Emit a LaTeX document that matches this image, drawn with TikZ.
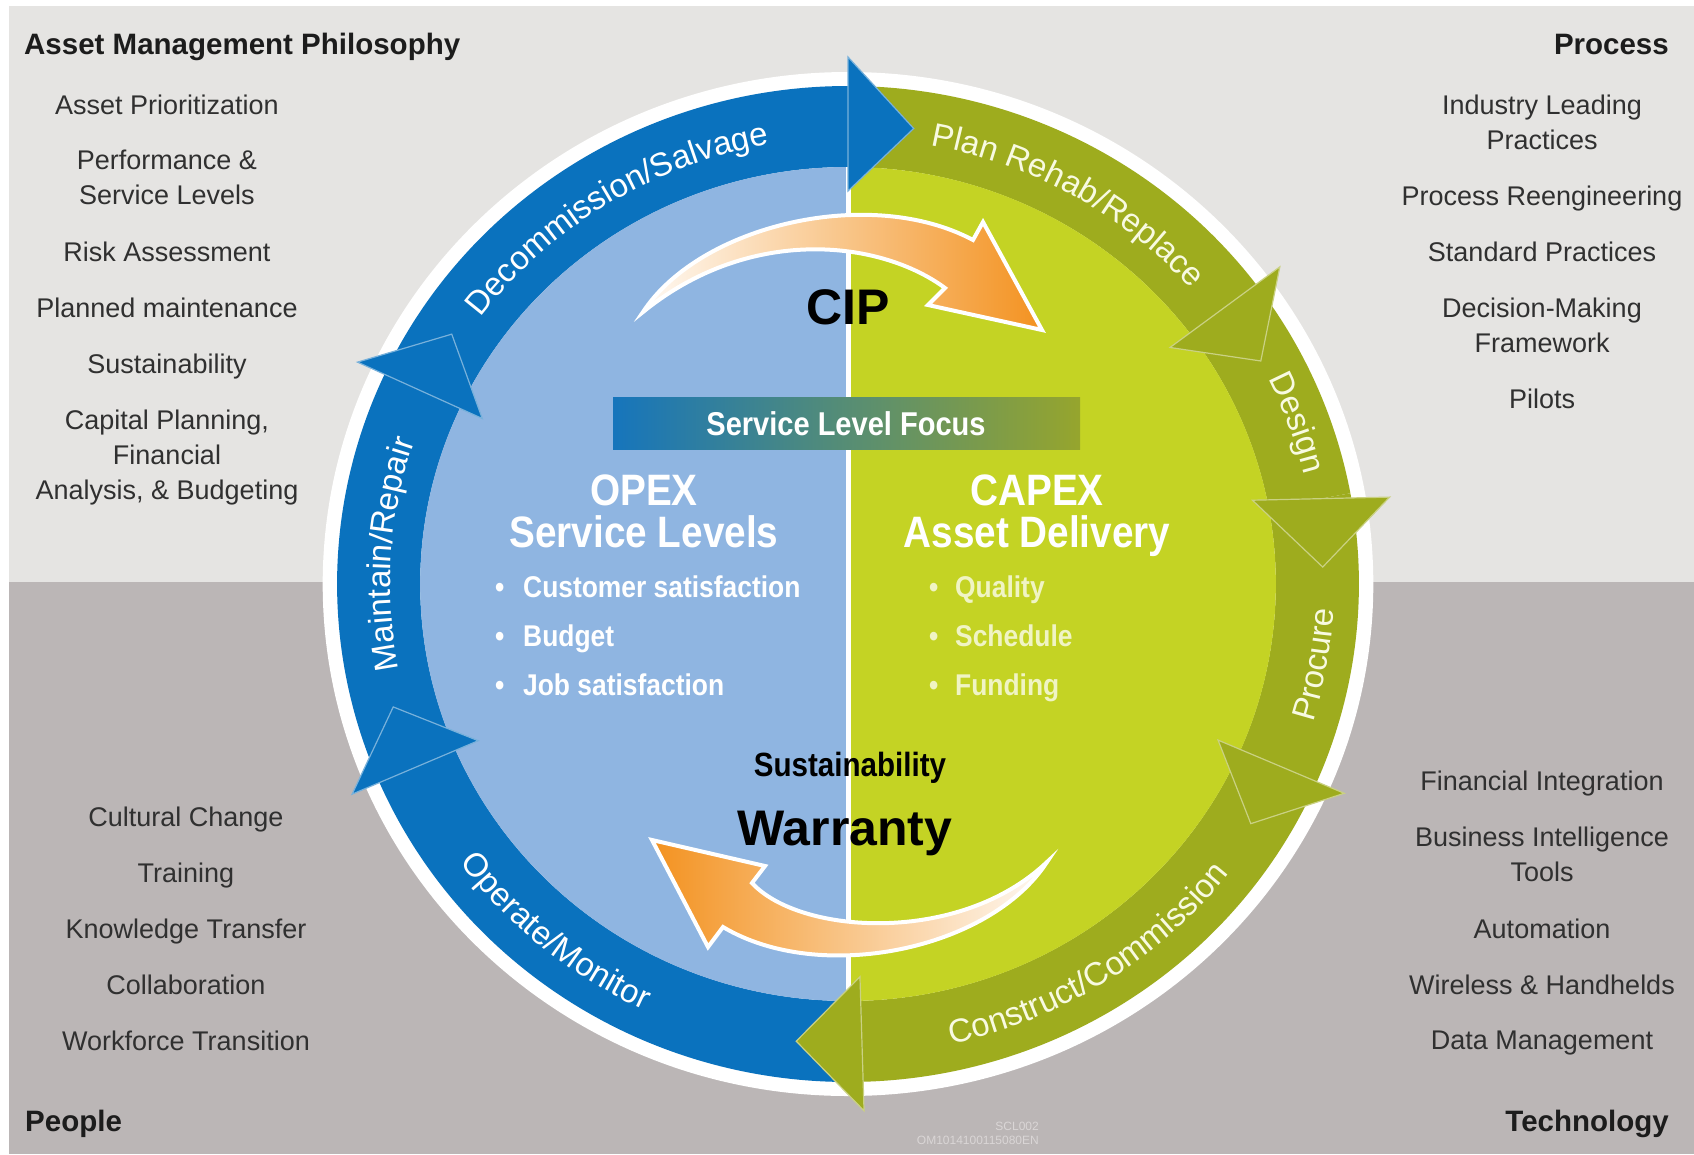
\documentclass[tikz,border=0pt]{standalone}
\usepackage{fontspec}
\setmainfont{Liberation Sans}
\newfontfamily\narrowfont[FakeStretch=0.88]{Liberation Sans}
\usetikzlibrary{decorations.text}
\definecolor{bgtop}{RGB}{229,228,226}
\definecolor{bgbot}{RGB}{187,182,182}
\definecolor{ringblue}{RGB}{10,114,190}
\definecolor{ringgreen}{RGB}{158,172,30}
\definecolor{diskblue}{RGB}{143,181,225}
\definecolor{diskgreen}{RGB}{196,211,36}
\definecolor{cipor}{RGB}{243,146,32}
\definecolor{listtext}{RGB}{48,48,48}
\definecolor{headtext}{RGB}{28,28,28}
\definecolor{barblue}{RGB}{22,117,188}
\definecolor{barolive}{RGB}{150,165,45}
\definecolor{cream}{RGB}{240,244,196}
\definecolor{ringtxtg}{RGB}{248,250,225}
\definecolor{tinytext}{RGB}{218,214,214}
\newcommand{\ringfont}{\fontsize{33}{36}\selectfont}
\tikzset{
 listitem/.style={anchor=north, inner sep=0pt, align=center, text=listtext, font=\fontsize{27}{35}\selectfont},
 cornerhead/.style={inner sep=0pt, text=headtext, font=\bfseries\fontsize{29.5}{34}\selectfont},
 centerhead/.style={anchor=base, inner sep=0pt, text=white, font=\narrowfont\bfseries\fontsize{44}{48}\selectfont},
 bulletitem/.style={anchor=base west, inner sep=0pt, font=\narrowfont\bfseries\fontsize{30}{34}\selectfont},
 bigword/.style={anchor=base, inner sep=0pt, text=black, font=\bfseries\fontsize{50}{56}\selectfont},
 cyclearrow/.style={draw=white, line width=4pt, line join=miter},
 ringlabel/.style 2 args={decorate, decoration={text along path, text align=center, text={|\ringfont\color{#2}|#1}}},
 headtri/.style={line width=1.2pt},
}
\begin{document}
\begin{tikzpicture}[x=1pt,y=1pt]
\useasboundingbox (0,0) rectangle (1694,-1154);
\fill[white] (0,0) rectangle (1694,-1154);
\fill[bgtop] (9,-6) rectangle (1694,-582);
\fill[bgbot] (9,-582) rectangle (1694,-1154);

% ---------- the cycle ----------
\begin{scope}[shift={(848,-584)}, xscale=1.026]
 \fill[white] (0,0) circle[radius=512];
 \foreach \a/\b/\c in {155.1/90/ringblue, 90/37/ringgreen, 37/10.5/ringgreen, 10.5/-23.4/ringgreen, -23.4/-88.3/ringgreen, -88.3/-156.5/ringblue, -156.5/-204.9/ringblue}
   \fill[\c] (\a:417) arc[start angle=\a, end angle=\b, radius=417] -- (\b:498) arc[start angle=\b, end angle=\a, radius=498] -- cycle;
 \fill[diskblue] (90:417) arc[start angle=90, end angle=270, radius=417] -- cycle;
 \fill[diskgreen] (-90:417) arc[start angle=-90, end angle=90, radius=417] -- cycle;
 \draw[white, line width=5pt] (0,417) -- (0,-417);
 % arrowheads between the stages
 \foreach \t/\c in {90/ringblue, 37/ringgreen, -23.4/ringgreen, -88.3/ringgreen, -156.5/ringblue, -204.9/ringblue}
   \filldraw[headtri, fill=\c, draw=\c!55!white] (\t:393) -- (\t:527) -- ({\t-8}:460) -- cycle;
 \filldraw[headtri, fill=ringgreen, draw=ringgreen!55!white] (12:403) -- (9.35:535) -- (2.1:463) -- cycle;
 % labels on the ring
 \path[ringlabel={Decommission/Salvage}{white}] (161.8:446) arc[start angle=161.8, end angle=81.8, radius=446];
 \path[ringlabel={Plan Rehab/Replace}{ringtxtg}] (100.3:446) arc[start angle=100.3, end angle=20.3, radius=446];
 \path[ringlabel={Design}{ringtxtg}] (60:458) arc[start angle=60, end angle=-20, radius=458];
 \path[ringlabel={Procure}{ringtxtg}] (-49.9:474) arc[start angle=-49.9, end angle=30.1, radius=474];
 \path[ringlabel={Construct/Commission}{ringtxtg}] (-97.6:471) arc[start angle=-97.6, end angle=-17.6, radius=471];
 \path[ringlabel={Operate/Monitor}{white}] (190.4:470) arc[start angle=190.4, end angle=270.4, radius=470];
 \path[ringlabel={Maintain/Repair}{white}] (216.2:446) arc[start angle=216.2, end angle=136.2, radius=446];
\end{scope}

% ---------- CIP and Warranty arrows ----------
\draw[cyclearrow, left color=cipor!5!white, right color=cipor]
  (643,-312) .. controls (700,-225) and (870,-185) .. (973,-240) -- (983,-222) -- (1042,-330)
  -- (928,-305) -- (945,-288) .. controls (880,-240) and (750,-225) .. (643,-312) -- cycle;
\draw[cyclearrow, left color=cipor, right color=cipor!5!white]
  (1047,-862) .. controls (990,-950) and (820,-985) .. (723,-927) -- (708,-947) -- (652,-840)
  -- (765,-866) -- (752,-883) .. controls (800,-935) and (960,-945) .. (1047,-862) -- cycle;

% ---------- center texts ----------
\node[bigword] (cip) at (848,-324) {CIP};
\fill[left color=barblue, right color=barolive] (613,-397) rectangle (1080,-449);
\node[anchor=base, inner sep=0pt, text=white, font=\narrowfont\bfseries\fontsize{33}{36}\selectfont] (slf) at (846,-435) {Service Level Focus};
\node[centerhead] (opex) at (644,-505) {OPEX};
\node[centerhead] (opexsub) at (644,-547) {Service Levels};
\node[centerhead] (capex) at (1037,-505) {CAPEX};
\node[centerhead] (capexsub) at (1037,-547) {Asset Delivery};
\node[bulletitem, text=white] (ob1) at (495,-597) {\makebox[28pt][l]{•}Customer satisfaction};
\node[bulletitem, text=white] (ob2) at (495,-646) {\makebox[28pt][l]{•}Budget};
\node[bulletitem, text=white] (ob3) at (495,-695) {\makebox[28pt][l]{•}Job satisfaction};
\node[bulletitem, text=cream] (cb1) at (929,-597) {\makebox[26pt][l]{•}Quality};
\node[bulletitem, text=cream] (cb2) at (929,-646) {\makebox[26pt][l]{•}Schedule};
\node[bulletitem, text=cream] (cb3) at (929,-695) {\makebox[26pt][l]{•}Funding};
\node[anchor=base, inner sep=0pt, text=black, font=\narrowfont\bfseries\fontsize{33.6}{36}\selectfont] (sust) at (850,-776) {Sustainability};
\node[bigword] (warr) at (845,-845) {Warranty};

% ---------- corner lists ----------
\node[cornerhead, anchor=base west] (amp) at (24,-54) {Asset Management Philosophy};
\node[listitem] (l1) at (167,-95) {Asset Prioritization};
\node[listitem] (l2) at (167,-150) {Performance \&\\Service Levels};
\node[listitem] (l3) at (167,-242) {Risk Assessment};
\node[listitem] (l4) at (167,-298) {Planned maintenance};
\node[listitem] (l5) at (167,-354) {Sustainability};
\node[listitem] (l6) at (167,-410) {Capital Planning,\\Financial\\Analysis, \& Budgeting};

\node[cornerhead, anchor=base east] (proc) at (1669,-54) {Process};
\node[listitem] (r1) at (1542,-95) {Industry Leading\\Practices};
\node[listitem] (r2) at (1542,-186) {Process Reengineering};
\node[listitem] (r3) at (1542,-242) {Standard Practices};
\node[listitem] (r4) at (1542,-298) {Decision-Making\\Framework};
\node[listitem] (r5) at (1542,-389) {Pilots};

\node[cornerhead, anchor=base west] (people) at (25,-1131) {People};
\node[listitem] (p1) at (186,-807) {Cultural Change};
\node[listitem] (p2) at (186,-863) {Training};
\node[listitem] (p3) at (186,-919) {Knowledge Transfer};
\node[listitem] (p4) at (186,-975) {Collaboration};
\node[listitem] (p5) at (186,-1031) {Workforce Transition};

\node[cornerhead, anchor=base east] (tech) at (1669,-1131) {Technology};
\node[listitem] (t1) at (1542,-771) {Financial Integration};
\node[listitem] (t2) at (1542,-827) {Business Intelligence\\Tools};
\node[listitem] (t3) at (1542,-919) {Automation};
\node[listitem] (t4) at (1542,-975) {Wireless \& Handhelds};
\node[listitem] (t5) at (1542,-1031) {Data Management};

% ---------- tiny code ----------
\node[anchor=base east, inner sep=0pt, text=tinytext, font=\fontsize{12}{13}\selectfont] (code1) at (1039,-1130) {SCL002};
\node[anchor=base east, inner sep=0pt, text=tinytext, font=\fontsize{12}{13}\selectfont] (code2) at (1039,-1144) {OM1014100115080EN};
\end{tikzpicture}
\end{document}
